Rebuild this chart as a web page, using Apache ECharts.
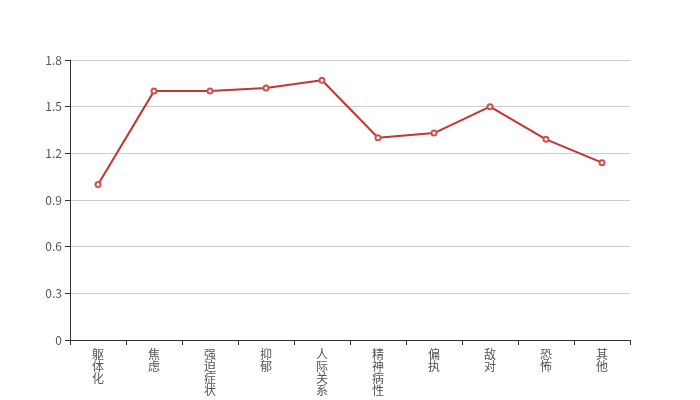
<!DOCTYPE html>
<html><head><meta charset="utf-8">
<script src="https://cdn.jsdelivr.net/npm/echarts@6/dist/echarts.min.js"></script>
<style>html,body{margin:0;padding:0;background:#fff}#c{width:700px;height:400px}</style>
</head><body><div id="c"></div>
<script>
const categories = ['躯体化','焦虑','强迫症状','抑郁','人际关系','精神病性','偏执','敌对','恐怖','其他'];
const values = [1.0, 1.6, 1.6, 1.62, 1.67, 1.3, 1.33, 1.5, 1.29, 1.14];
const yMin = 0, yMax = 1.8, yInterval = 0.3;

const chart = echarts.init(document.getElementById('c'), null, {renderer:'canvas'});
chart.setOption({
  animation:false,
  grid:{left:70,right:70,top:60,bottom:60},
  xAxis:{
    type:'category',
    data:categories,
    boundaryGap:true,
    axisLine:{lineStyle:{color:'#333'}},
    axisTick:{show:true,interval:0,length:5,lineStyle:{color:'#333'}},
    axisLabel:{
      interval:0,
      color:'#555',
      fontSize:12,
      lineHeight:12,
      margin:8,
      fontFamily:'Noto Sans CJK SC',
      formatter:v=>v.split('').join('\n')
    }
  },
  yAxis:{
    type:'value',
    min:yMin,max:yMax,interval:yInterval,
    axisLine:{show:true,lineStyle:{color:'#333'}},
    axisTick:{show:true,length:5,lineStyle:{color:'#333'}},
    axisLabel:{color:'#555',fontSize:12,fontFamily:'Noto Sans CJK SC'},
    splitLine:{lineStyle:{color:'#ccc'}}
  },
  series:[{
    type:'line',
    data:values,
    symbol:'emptyCircle',
    symbolSize:5,
    lineStyle:{color:'#c23531',width:2},
    itemStyle:{color:'#d05050',borderWidth:1}
  }]
});
</script></body></html>
